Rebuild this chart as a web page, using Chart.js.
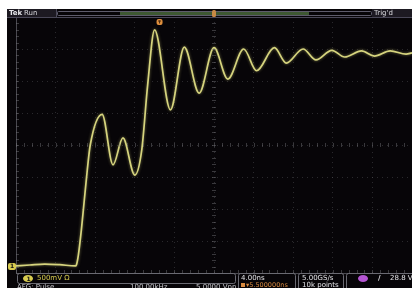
<!DOCTYPE html>
<html>
<head>
<meta charset="utf-8">
<script src="https://cdn.jsdelivr.net/npm/chart.js@4.4.0/dist/chart.umd.min.js"></script>
<style>
    html, body { margin: 0; padding: 0; background: #fff; overflow: hidden; }
    #wrap { width: 412px; height: 288px; position: relative; }
</style>
</head>
<body>
<div id="wrap"><canvas id="scope"></canvas></div>
<script>
// Trace: time in ns (0 = screen centre), volts (0 = screen centre)
const timeNs = [-20.0, -18.6, -17.1, -15.6, -14.0, -13.9, -13.7, -13.4, -13.1, -12.8, -12.5, -11.3,
    -10.2, -9.2, -8.0, -7.3, -6.7, -6.0, -4.4, -3.0, -1.5, 0.0, 1.4, 3.0, 4.3, 6.1, 7.3, 9.0, 10.3, 11.9,
    13.2, 14.9, 16.2, 17.8, 19.4, 20.0];
const volts = [-1.89, -1.875, -1.86, -1.87, -1.89, -1.875, -1.72, -1.33, -0.86, -0.39, 0.0, 0.48,
    -0.31, 0.11, -0.47, -0.08, 0.94, 1.80, 0.55, 1.53, 0.81, 1.52, 1.03, 1.50, 1.16, 1.52, 1.28, 1.50, 1.33, 1.48,
    1.375, 1.47, 1.39, 1.47, 1.42, 1.44];

// Screen settings
const NS_PER_DIV = 4;
const V_PER_DIV = 0.5;
const TRIGGER_NS = -5.5;
const GROUND_V = -1.89;

const TRACE_COLOR = '#d6d47e';
const GRID_COLOR = 'rgba(110, 110, 115, 0.35)';
const SCREEN_BG = '#070508';

function roundBox(ctx, x, y, w, h, r, stroke, fill) {
    ctx.beginPath();
    ctx.roundRect(x, y, w, h, r);
    if (fill) { ctx.fillStyle = fill; ctx.fill(); }
    if (stroke) { ctx.strokeStyle = stroke; ctx.lineWidth = 1; ctx.stroke(); }
}

function text(ctx, str, x, y, color, font) {
    ctx.font = font || '7px "DejaVu Sans"';
    ctx.fillStyle = color;
    ctx.textAlign = 'left';
    ctx.textBaseline = 'middle';
    ctx.fillText(str, x, y);
}

// Screen background and white margin
const screenBackground = {
    id: 'screenBackground',
    beforeDraw(chart) {
        const ctx = chart.ctx;
        ctx.save();
        ctx.fillStyle = '#ffffff';
        ctx.fillRect(0, 0, chart.width, chart.height);
        ctx.fillStyle = SCREEN_BG;
        ctx.fillRect(7, 9, chart.width - 7, chart.height - 9);
        ctx.restore();
    }
};

// Trace glow
const traceGlow = {
    id: 'traceGlow',
    beforeDatasetsDraw(chart) {
        chart.ctx.save();
        chart.ctx.shadowColor = 'rgba(230, 225, 130, 0.5)';
        chart.ctx.shadowBlur = 3;
    },
    afterDatasetsDraw(chart) {
        chart.ctx.restore();
    }
};

// Graticule centre ticks, header and readouts
const scopeChrome = {
    id: 'scopeChrome',
    afterDraw(chart) {
        const ctx = chart.ctx;
        const xs = chart.scales.x;
        const ys = chart.scales.y;
        const area = chart.chartArea;
        const cx = xs.getPixelForValue(0);
        const cy = ys.getPixelForValue(0);
        ctx.save();

        // centre crosshair minor ticks
        ctx.strokeStyle = 'rgba(120, 120, 125, 0.45)';
        ctx.lineWidth = 1;
        ctx.beginPath();
        for (let t = -20; t <= 20.001; t += NS_PER_DIV / 5) {
            const px = Math.round(xs.getPixelForValue(t)) + 0.5;
            ctx.moveTo(px, cy - 2); ctx.lineTo(px, cy + 2);
            ctx.moveTo(px, area.bottom - 3); ctx.lineTo(px, area.bottom);
        }
        for (let v = -2; v <= 2.001; v += V_PER_DIV / 5) {
            const py = Math.round(ys.getPixelForValue(v)) + 0.5;
            ctx.moveTo(cx - 2, py); ctx.lineTo(cx + 2, py);
            ctx.moveTo(area.left, py); ctx.lineTo(area.left + 3, py);
        }
        ctx.stroke();

        // header bar
        ctx.fillStyle = '#1d1a22';
        ctx.fillRect(7, 9, 49, 8);
        text(ctx, 'Tek', 9, 13, '#e6e6ea', 'bold 7px "DejaVu Sans"');
        text(ctx, 'Run', 24, 13, '#d8d8dc', '7px "DejaVu Sans"');
        ctx.strokeStyle = '#4a4858';
        ctx.beginPath();
        ctx.moveTo(7, 17.5); ctx.lineTo(chart.width, 17.5);
        ctx.moveTo(56.5, 9); ctx.lineTo(56.5, 17);
        ctx.stroke();
        roundBox(ctx, 57.5, 11.5, 314, 4, 1, '#5e5c6c', null);
        ctx.fillStyle = '#3e5832';
        ctx.fillRect(120, 12, 189, 3);
        ctx.fillStyle = '#1d1a22';
        ctx.fillRect(372, 9, 40, 8);
        text(ctx, "Trig'd", 374, 13, '#d8d8dc');
        roundBox(ctx, xs.getPixelForValue(0) - 2, 10, 4, 7, 1.5, null, '#c88a45');

        // trigger point marker on the graticule
        const tx = xs.getPixelForValue(TRIGGER_NS);
        roundBox(ctx, tx - 3, area.top + 2, 6, 6, 2, null, '#e0903e');
        ctx.fillStyle = '#4a2a10';
        ctx.fillRect(tx - 1.5, area.top + 3.5, 3, 1);
        ctx.fillRect(tx - 0.5, area.top + 3.5, 1, 3);

        // ground level marker
        const gy = ys.getPixelForValue(GROUND_V);
        roundBox(ctx, 8, gy - 3, 8, 7, 2, null, '#d8cc50');
        text(ctx, '1', 10, gy + 0.5, '#111', 'bold 6px "DejaVu Sans"');

        // readouts
        roundBox(ctx, 17.5, 273.5, 218, 10, 2, '#6a6a72', null);
        ctx.beginPath();
        ctx.ellipse(28, 278.5, 5, 3.5, 0, 0, Math.PI * 2);
        ctx.fillStyle = '#d8cc50';
        ctx.fill();
        text(ctx, '1', 26.5, 279, '#111', 'bold 6px "DejaVu Sans"');
        text(ctx, '500mV \u03a9', 37, 278.5, '#d8cc50');
        text(ctx, 'AFG: Pulse', 17, 287, '#c8c8cc');
        text(ctx, '100.00kHz', 130, 287, '#c8c8cc');
        text(ctx, '5.0000 Vpp', 196, 287, '#c8c8cc');

        roundBox(ctx, 238.5, 273.5, 57, 18, 2, '#6a6a72', null);
        text(ctx, '4.00ns', 241, 278.5, '#e2e2e6');
        ctx.fillStyle = '#d88a40';
        ctx.fillRect(241, 283, 4, 4);
        text(ctx, '\u25be5.500000ns', 246, 285.5, '#d88a40', '6.5px "DejaVu Sans"');

        roundBox(ctx, 298.5, 273.5, 45, 18, 2, '#6a6a72', null);
        text(ctx, '5.00GS/s', 302, 278.5, '#e2e2e6');
        text(ctx, '10k points', 302, 285.5, '#e2e2e6');

        roundBox(ctx, 346.5, 273.5, 70, 18, 2, '#6a6a72', null);
        ctx.beginPath();
        ctx.ellipse(363, 278.5, 5, 3.5, 0, 0, Math.PI * 2);
        ctx.fillStyle = '#b455d2';
        ctx.fill();
        text(ctx, '/', 378, 278.5, '#e2e2e6', 'bold 7px "DejaVu Sans"');
        text(ctx, '28.8 V', 390, 278.5, '#e2e2e6');

        ctx.restore();
    }
};

const trace = timeNs.map((t, i) => ({ x: t, y: volts[i] }));

new Chart(document.getElementById('scope').getContext('2d'), {
    type: 'line',
    data: {
        datasets: [{
            label: 'CH1',
            data: trace,
            borderColor: TRACE_COLOR,
            borderWidth: 1.7,
            pointRadius: 0,
            cubicInterpolationMode: 'monotone',
            fill: false
        }]
    },
    options: {
        responsive: true,
        maintainAspectRatio: false,
        animation: false,
        devicePixelRatio: 1,
        layout: { padding: { left: 16, top: 17, right: 0, bottom: 15 } },
        plugins: {
            legend: { display: false },
            tooltip: { enabled: false }
        },
        scales: {
            x: {
                type: 'linear',
                min: -20,
                max: 20,
                ticks: { display: false, stepSize: NS_PER_DIV },
                grid: { color: GRID_COLOR, drawTicks: false, lineWidth: 1 },
                border: { display: true, color: '#4a4950', dash: [1, 4] }
            },
            y: {
                min: -2,
                max: 2,
                ticks: { display: false, stepSize: V_PER_DIV },
                grid: { color: GRID_COLOR, drawTicks: false, lineWidth: 1 },
                border: { display: true, color: '#4a4950', dash: [1, 4] }
            }
        }
    },
    plugins: [screenBackground, traceGlow, scopeChrome]
});
</script>
</body>
</html>
